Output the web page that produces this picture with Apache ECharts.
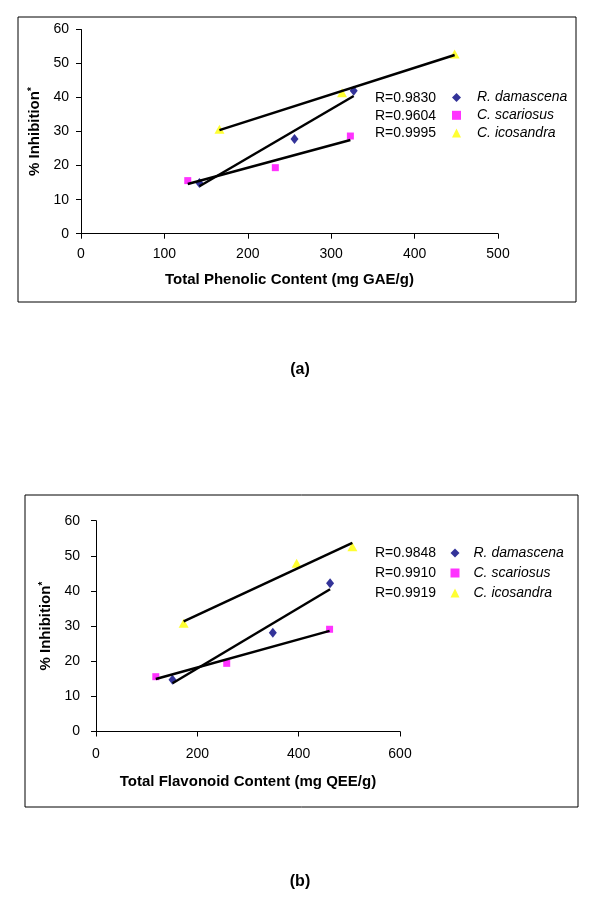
<!DOCTYPE html>
<html><head><meta charset="utf-8">
<script src="https://cdn.jsdelivr.net/npm/echarts@6/dist/echarts.min.js"></script>
<style>html,body{margin:0;padding:0;background:#fff}#c{width:600px;height:903px}</style>
</head><body><div id="c"></div>
<script>
// ---------- data ----------
const speciesNames = ['R. damascena', 'C. scariosus', 'C. icosandra'];

// panel (a): Total Phenolic Content (mg GAE/g) vs % Inhibition
const phenolicDamascenaX = [142, 256, 327];
const phenolicDamascenaY = [14.9, 27.8, 42.0];
const phenolicScariosusX = [128, 233, 323];
const phenolicScariosusY = [15.6, 19.4, 28.7];
const phenolicIcosandraX = [166, 313, 448];
const phenolicIcosandraY = [30.7, 41.4, 52.8];
const phenolicR = ['R=0.9830', 'R=0.9604', 'R=0.9995'];
const phenolicXTicks = [0, 500, 100];   // min, max, step
const phenolicTitle = 'Total Phenolic Content (mg GAE/g)';

// panel (b): Total Flavonoid Content (mg QEE/g) vs % Inhibition
const flavonoidDamascenaX = [151, 349, 462];
const flavonoidDamascenaY = [14.7, 28.1, 42.2];
const flavonoidScariosusX = [118, 258, 461];
const flavonoidScariosusY = [15.6, 19.4, 29.1];
const flavonoidIcosandraX = [173, 396, 506];
const flavonoidIcosandraY = [30.8, 47.9, 52.6];
const flavonoidR = ['R=0.9848', 'R=0.9910', 'R=0.9919'];
const flavonoidXTicks = [0, 600, 200];
const flavonoidTitle = 'Total Flavonoid Content (mg QEE/g)';

const yTicks = [0, 60, 10];
const yTitle = '% Inhibition';
const panelLabels = ['(a)', '(b)'];

// ---------- helpers ----------
const FONT = 'Liberation Sans, Arial, sans-serif';
function pairs(xs, ys) { return xs.map((x, i) => [x, ys[i]]); }
// least-squares trendline (as in the original spreadsheet chart)
function trend(xs, ys) {
  const n = xs.length;
  const mx = xs.reduce((a, b) => a + b, 0) / n;
  const my = ys.reduce((a, b) => a + b, 0) / n;
  let sxy = 0, sxx = 0;
  for (let i = 0; i < n; i++) { sxy += (xs[i] - mx) * (ys[i] - my); sxx += (xs[i] - mx) * (xs[i] - mx); }
  const b = sxy / sxx, a = my - b * mx;
  const x0 = Math.min(...xs), x1 = Math.max(...xs);
  return [[x0, a + b * x0], [x1, a + b * x1]];
}

const markerStyles = [
  { symbol: 'diamond', symbolSize: [8, 10], color: '#000080' },
  { symbol: 'rect', symbolSize: 7, color: '#FF00FF' },
  { symbol: 'triangle', symbolSize: [10, 9], color: '#FFFF00' }
];

function axisCommon() {
  return {
    type: 'value',
    splitLine: { show: false },
    axisLine: { show: true, onZero: false, lineStyle: { color: '#000', width: 1 } },
    axisTick: { show: true, inside: false, length: 5, lineStyle: { color: '#000' } },
    nameLocation: 'middle',
    nameTextStyle: { color: '#000', fontWeight: 'bold', fontSize: 15, fontFamily: FONT,
      rich: { sup: { fontSize: 10, fontWeight: 'bold', verticalAlign: 'top', color: '#000', fontFamily: FONT, padding: [0, 0, 6, 0] } } }
  };
}

const panels = [
  { xs: [phenolicDamascenaX, phenolicScariosusX, phenolicIcosandraX],
    ys: [phenolicDamascenaY, phenolicScariosusY, phenolicIcosandraY],
    R: phenolicR, ticks: phenolicXTicks, title: phenolicTitle,
    grid: { left: 81, top: 29.5, width: 417, height: 204.2 },
    xLabelMargin: 13, yLabelMargin: 12, xNameGap: 39, yNameGap: 37,
    legendLeft: 452, legendTop: 90.5, legendGap: 3.8, spacer: 11, rX: 375 },
  { xs: [flavonoidDamascenaX, flavonoidScariosusX, flavonoidIcosandraX],
    ys: [flavonoidDamascenaY, flavonoidScariosusY, flavonoidIcosandraY],
    R: flavonoidR, ticks: flavonoidXTicks, title: flavonoidTitle,
    grid: { left: 96, top: 520.7, width: 304, height: 210.8 },
    xLabelMargin: 16, yLabelMargin: 16, xNameGap: 43, yNameGap: 35,
    legendLeft: 450.5, legendTop: 546, legendGap: 6, spacer: 9, rX: 375 }
];

const grid = [], xAxis = [], yAxis = [], series = [], legend = [], graphic = [];
panels.forEach((p, pi) => {
  grid.push(Object.assign({ containLabel: false }, p.grid));
  xAxis.push(Object.assign(axisCommon(), {
    gridIndex: pi, min: p.ticks[0], max: p.ticks[1], interval: p.ticks[2],
    name: p.title, nameGap: p.xNameGap,
    axisLabel: { color: '#000', fontSize: 14, fontFamily: FONT, margin: p.xLabelMargin }
  }));
  yAxis.push(Object.assign(axisCommon(), {
    gridIndex: pi, min: yTicks[0], max: yTicks[1], interval: yTicks[2],
    name: yTitle + '{sup|*}', nameGap: p.yNameGap, nameRotate: 90,
    axisLabel: { color: '#000', fontSize: 14, fontFamily: FONT, margin: p.yLabelMargin }
  }));
  speciesNames.forEach((nm, si) => {
    const m = markerStyles[si];
    series.push({
      name: nm, type: 'scatter', xAxisIndex: pi, yAxisIndex: pi,
      symbol: m.symbol, symbolSize: m.symbolSize,
      itemStyle: { color: m.color },
      data: pairs(p.xs[si], p.ys[si]), z: 2
    });
    series.push({
      name: 'trend-' + pi + '-' + si, type: 'line', xAxisIndex: pi, yAxisIndex: pi,
      showSymbol: false, symbol: 'none', silent: true,
      lineStyle: { color: '#000', width: 2.5 }, z: 3,
      data: trend(p.xs[si], p.ys[si])
    });
  });
  legend.push({
    data: speciesNames, orient: 'vertical', left: p.legendLeft, top: p.legendTop,
    padding: 0, itemWidth: 9, itemHeight: 9, itemGap: p.legendGap, selectedMode: false,
    formatter: (name) => '{s| }{n|' + name + '}',
    textStyle: { color: '#000', fontSize: 14, fontFamily: FONT,
      rich: { s: { width: p.spacer }, n: { fontStyle: 'italic', fontSize: 14, fontFamily: FONT, color: '#000' } } }
  });
});

option = {
  animation: false,
  backgroundColor: '#fff',
  grid, xAxis, yAxis, series, legend,
  graphic: []
};

const chart = echarts.init(document.getElementById('c'), null, { renderer: 'canvas' });
chart.setOption(option);

// frames, R values and panel labels
const frames = [
  { x: 18, y: 17, width: 558, height: 285 },
  { x: 25, y: 495, width: 553, height: 312 }
];
const labelY = [370, 882];
const rowY = [[97.7, 115.7, 133.3], [553.5, 573.5, 593.5]];
frames.forEach((f, i) => {
  graphic.push({ type: 'rect', shape: f, style: { fill: 'none', stroke: '#000', lineWidth: 1 }, silent: true, z: 0 });
  graphic.push({ type: 'text', x: 300, y: labelY[i], style: { text: panelLabels[i], font: 'bold 16px ' + FONT, fill: '#000', align: 'center', verticalAlign: 'middle' } });
  panels[i].R.forEach((r, k) => {
    graphic.push({ type: 'text', x: panels[i].rX, y: rowY[i][k], style: { text: r, font: '14px ' + FONT, fill: '#000', align: 'left', verticalAlign: 'middle' } });
  });
});
chart.setOption({ graphic });
</script>
</body></html>
